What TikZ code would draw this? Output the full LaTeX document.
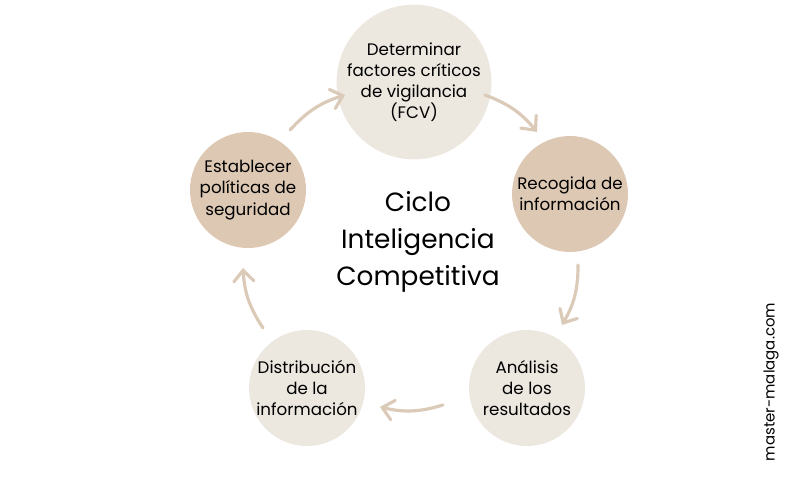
\documentclass[tikz,border=0pt]{standalone}
\usepackage{fontspec}
\setmainfont{Poppins}
\usetikzlibrary{arrows.meta}
\definecolor{lightbeige}{HTML}{ECE7DF}
\definecolor{darkbeige}{HTML}{DDC8B3}
\definecolor{arrowtan}{HTML}{DCCAB8}
\begin{document}
\begin{tikzpicture}[x=0.02cm,y=-0.02cm,
	step node/.style={circle, minimum size=2.32cm, align=center, font=\fontsize{9.5}{12}\selectfont, inner sep=0pt},
	cycle arrow/.style={draw=arrowtan, line width=1.8pt, line cap=round, -{Straight Barb[length=2.2mm,width=4mm,line cap=round]}}
]
\useasboundingbox (0,0) rectangle (800,480);

\node[step node, fill=lightbeige] (fcv) at (414,82) {Determinar\\factores críticos\\de vigilancia\\(FCV)};
\node[step node, fill=darkbeige] (recogida) at (570,194) {Recogida de\\información};
\node[step node, fill=lightbeige] (analisis) at (527,388) {Análisis\\de los\\resultados};
\node[step node, fill=lightbeige] (distrib) at (307,388) {Distribución\\de la\\información};
\node[step node, fill=darkbeige] (politicas) at (248,190) {Establecer\\políticas de\\seguridad};

\node[align=center, font=\fontsize{15}{21}\selectfont] (title) at (418,242) {Ciclo\\Inteligencia\\Competitiva};

\node[rotate=90, font=\fontsize{8.5}{10}\selectfont] (web) at (771,382) {master-malaga.com};

% ---
\coordinate (a1) at (290,130); \coordinate (b1) at (345,95);
\coordinate (a2) at (485,95);  \coordinate (b2) at (537,132);
\coordinate (a3) at (578,265); \coordinate (b3) at (562,325);
\coordinate (a4) at (443,405); \coordinate (b4) at (380,407);
\coordinate (a5) at (263,328); \coordinate (b5) at (243,268);

\draw[cycle arrow] (a1) to[bend left=15] (b1);
\draw[cycle arrow] (a2) to[bend left=15] (b2);
\draw[cycle arrow] (a3) to[bend left=15] (b3);
\draw[cycle arrow] (a4) to[bend left=15] (b4);
\draw[cycle arrow] (a5) to[bend left=15] (b5);

\end{tikzpicture}
\end{document}
